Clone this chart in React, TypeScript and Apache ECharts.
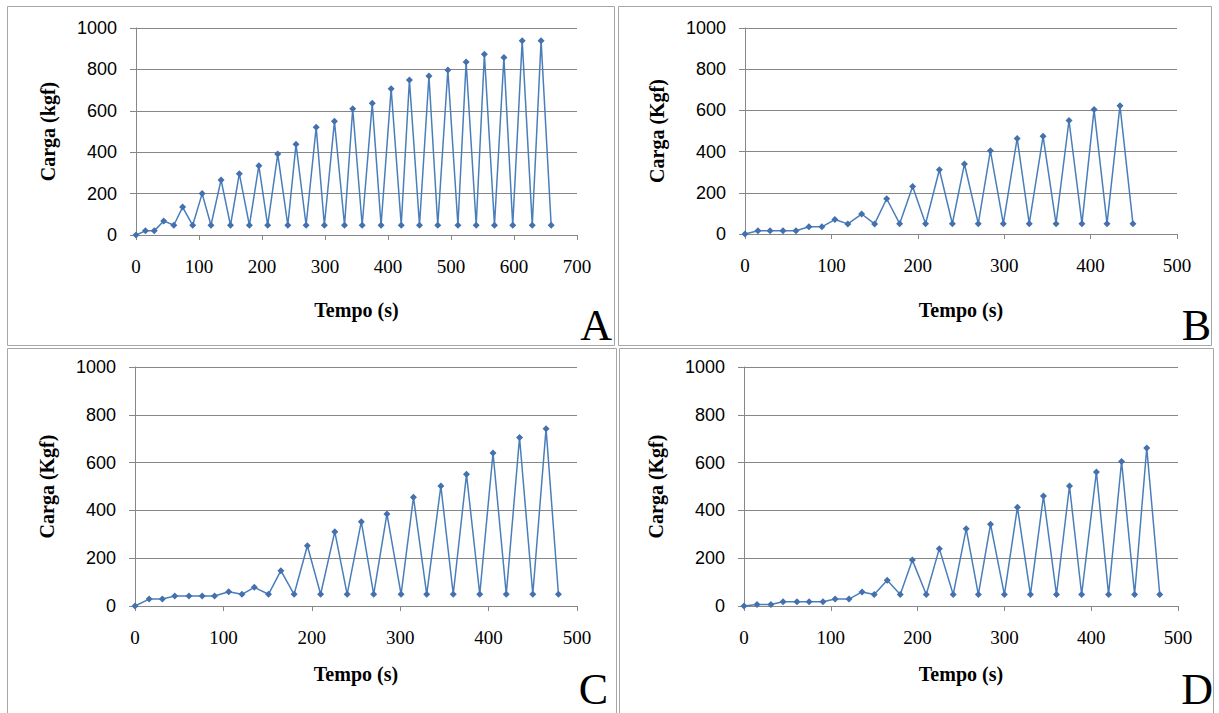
import React, { useEffect, useRef } from "react";
import * as echarts from "echarts";

// Panel A
const timeA = [0, 15, 29, 44, 60, 74, 90, 105, 119, 135, 150, 164, 180, 195, 209, 225, 241, 254, 270, 286, 299, 315, 331, 344, 359, 375, 389, 405, 421, 434, 450, 465, 479, 495, 511, 524, 540, 553, 569, 584, 598, 613, 629, 643, 659];
const loadA = [0, 20, 20, 68, 47, 135, 47, 200, 47, 266, 47, 296, 47, 335, 47, 391, 47, 438, 47, 520, 47, 549, 47, 610, 47, 636, 47, 707, 47, 749, 47, 768, 47, 797, 47, 836, 47, 873, 47, 858, 47, 939, 47, 939, 47];
// Panel B
const timeB = [0, 15, 29, 44, 59, 74, 89, 104, 119, 135, 150, 164, 179, 194, 209, 225, 240, 254, 270, 284, 299, 315, 329, 345, 360, 375, 390, 404, 419, 434, 449];
const loadB = [0, 16, 16, 16, 16, 35, 35, 70, 49, 97, 49, 171, 50, 230, 50, 312, 50, 340, 50, 404, 50, 464, 50, 474, 50, 551, 50, 604, 50, 623, 50];
// Panel C
const timeC = [0, 16, 31, 45, 61, 76, 90, 106, 121, 135, 151, 165, 180, 195, 210, 226, 240, 256, 270, 285, 301, 315, 330, 346, 360, 375, 390, 405, 420, 435, 450, 465, 479];
const loadC = [0, 29, 29, 42, 42, 42, 42, 60, 49, 78, 49, 148, 49, 252, 49, 311, 49, 353, 49, 385, 49, 455, 49, 502, 49, 551, 49, 640, 49, 705, 49, 742, 49];
// Panel D
const timeD = [0, 15, 31, 45, 61, 75, 91, 105, 121, 136, 150, 165, 180, 194, 210, 225, 241, 256, 270, 284, 300, 315, 330, 345, 360, 375, 389, 406, 420, 435, 450, 464, 479];
const loadD = [0, 6, 6, 18, 18, 18, 18, 29, 29, 59, 48, 108, 48, 192, 48, 240, 48, 323, 48, 342, 48, 413, 48, 460, 48, 502, 48, 561, 48, 605, 48, 661, 48];

const panelLetters = ["A", "B", "C", "D"];
const yNames = ["Carga (kgf)", "Carga (Kgf)", "Carga (Kgf)", "Carga (Kgf)"];
const xName = "Tempo (s)";
const xMaxes = [700, 500, 500, 500];

const grids = [
  { left: 136, top: 28, width: 441, height: 207 },
  { left: 745, top: 28, width: 432, height: 206 },
  { left: 135, top: 367, width: 442, height: 239 },
  { left: 744, top: 367, width: 434, height: 239 },
];
const boxes = [
  { x: 7, y: 6, w: 607, h: 339 },
  { x: 618, y: 6, w: 593, h: 339 },
  { x: 7, y: 348, w: 609, h: 370 },
  { x: 619, y: 348, w: 594, h: 370 },
];
const letterPos = [
  { x: 612, y: 347 },
  { x: 1211, y: 347 },
  { x: 608, y: 711 },
  { x: 1213, y: 711 },
];
const xNameGaps = [65, 66, 58, 58];

const AXIS_GRAY = "#878787";
const LINE_BLUE = "#4a7ebb";

export default function App() {
  const ref = useRef<HTMLDivElement>(null);
  useEffect(() => {
    if (!ref.current) return;
    const chart = echarts.init(ref.current, null, { renderer: "svg" });
    const times = [timeA, timeB, timeC, timeD];
    const loads = [loadA, loadB, loadC, loadD];

    const xAxes = grids.map((_, i) => ({
      type: "value",
      gridIndex: i,
      min: 0,
      max: xMaxes[i],
      interval: 100,
      name: xName,
      nameLocation: "middle",
      nameGap: xNameGaps[i],
      nameTextStyle: { fontFamily: "Liberation Serif", fontWeight: "bold", fontSize: 20, color: "#000" },
      axisLine: { show: true, lineStyle: { color: AXIS_GRAY, width: 1 } },
      axisTick: { show: true, length: 5, lineStyle: { color: AXIS_GRAY } },
      splitLine: { show: false },
      axisLabel: {
        fontFamily: "Liberation Serif",
        fontSize: 19,
        color: "#000",
        margin: 22,
        showMinLabel: true,
        showMaxLabel: true,
        formatter: (v: number) => String(v),
      },
    }));
    const yAxes = grids.map((_, i) => ({
      type: "value",
      gridIndex: i,
      min: 0,
      max: 1000,
      interval: 200,
      name: yNames[i],
      nameLocation: "middle",
      nameGap: 78,
      nameRotate: 90,
      nameTextStyle: { fontFamily: "Liberation Serif", fontWeight: "bold", fontSize: 20, color: "#000" },
      axisLine: { show: true, lineStyle: { color: AXIS_GRAY, width: 1 } },
      axisTick: { show: true, length: 6, lineStyle: { color: AXIS_GRAY } },
      splitLine: { show: true, lineStyle: { color: AXIS_GRAY, width: 1 } },
      axisLabel: {
        fontFamily: "Liberation Sans",
        fontSize: 18,
        color: "#000",
        margin: 19,
        formatter: (v: number) => String(v),
      },
    }));
    const series = grids.map((_, i) => ({
      type: "line",
      xAxisIndex: i,
      yAxisIndex: i,
      data: times[i].map((t, k) => [t, loads[i][k]]),
      symbol: "diamond",
      symbolSize: 7,
      showAllSymbol: true,
      lineStyle: { color: LINE_BLUE, width: 1.5 },
      itemStyle: { color: "#4470ad" },
    }));

    const graphic: any[] = [];
    boxes.forEach((b) => {
      graphic.push({
        type: "rect",
        shape: { x: b.x + 0.5, y: b.y + 0.5, width: b.w, height: b.h },
        style: { fill: "none", stroke: "#a6a6a6", lineWidth: 1 },
        silent: true,
      });
    });
    panelLetters.forEach((l, i) => {
      graphic.push({
        type: "text",
        style: {
          text: l,
          x: letterPos[i].x,
          y: letterPos[i].y,
          fontFamily: "Liberation Serif",
          fontSize: 44,
          fill: "#000",
          align: "right",
          verticalAlign: "bottom",
        },
        silent: true,
      });
    });

    chart.setOption({
      animation: false,
      backgroundColor: "#ffffff",
      grid: grids.map((g) => ({ ...g, containLabel: false, outerBoundsMode: "none" })),
      xAxis: xAxes,
      yAxis: yAxes,
      series,
      graphic,
    });
    return () => chart.dispose();
  }, []);
  return (
    <div
      ref={ref}
      style={{ position: "absolute", left: 0, top: 0, width: 1219, height: 713, background: "#fff" }}
    />
  );
}
